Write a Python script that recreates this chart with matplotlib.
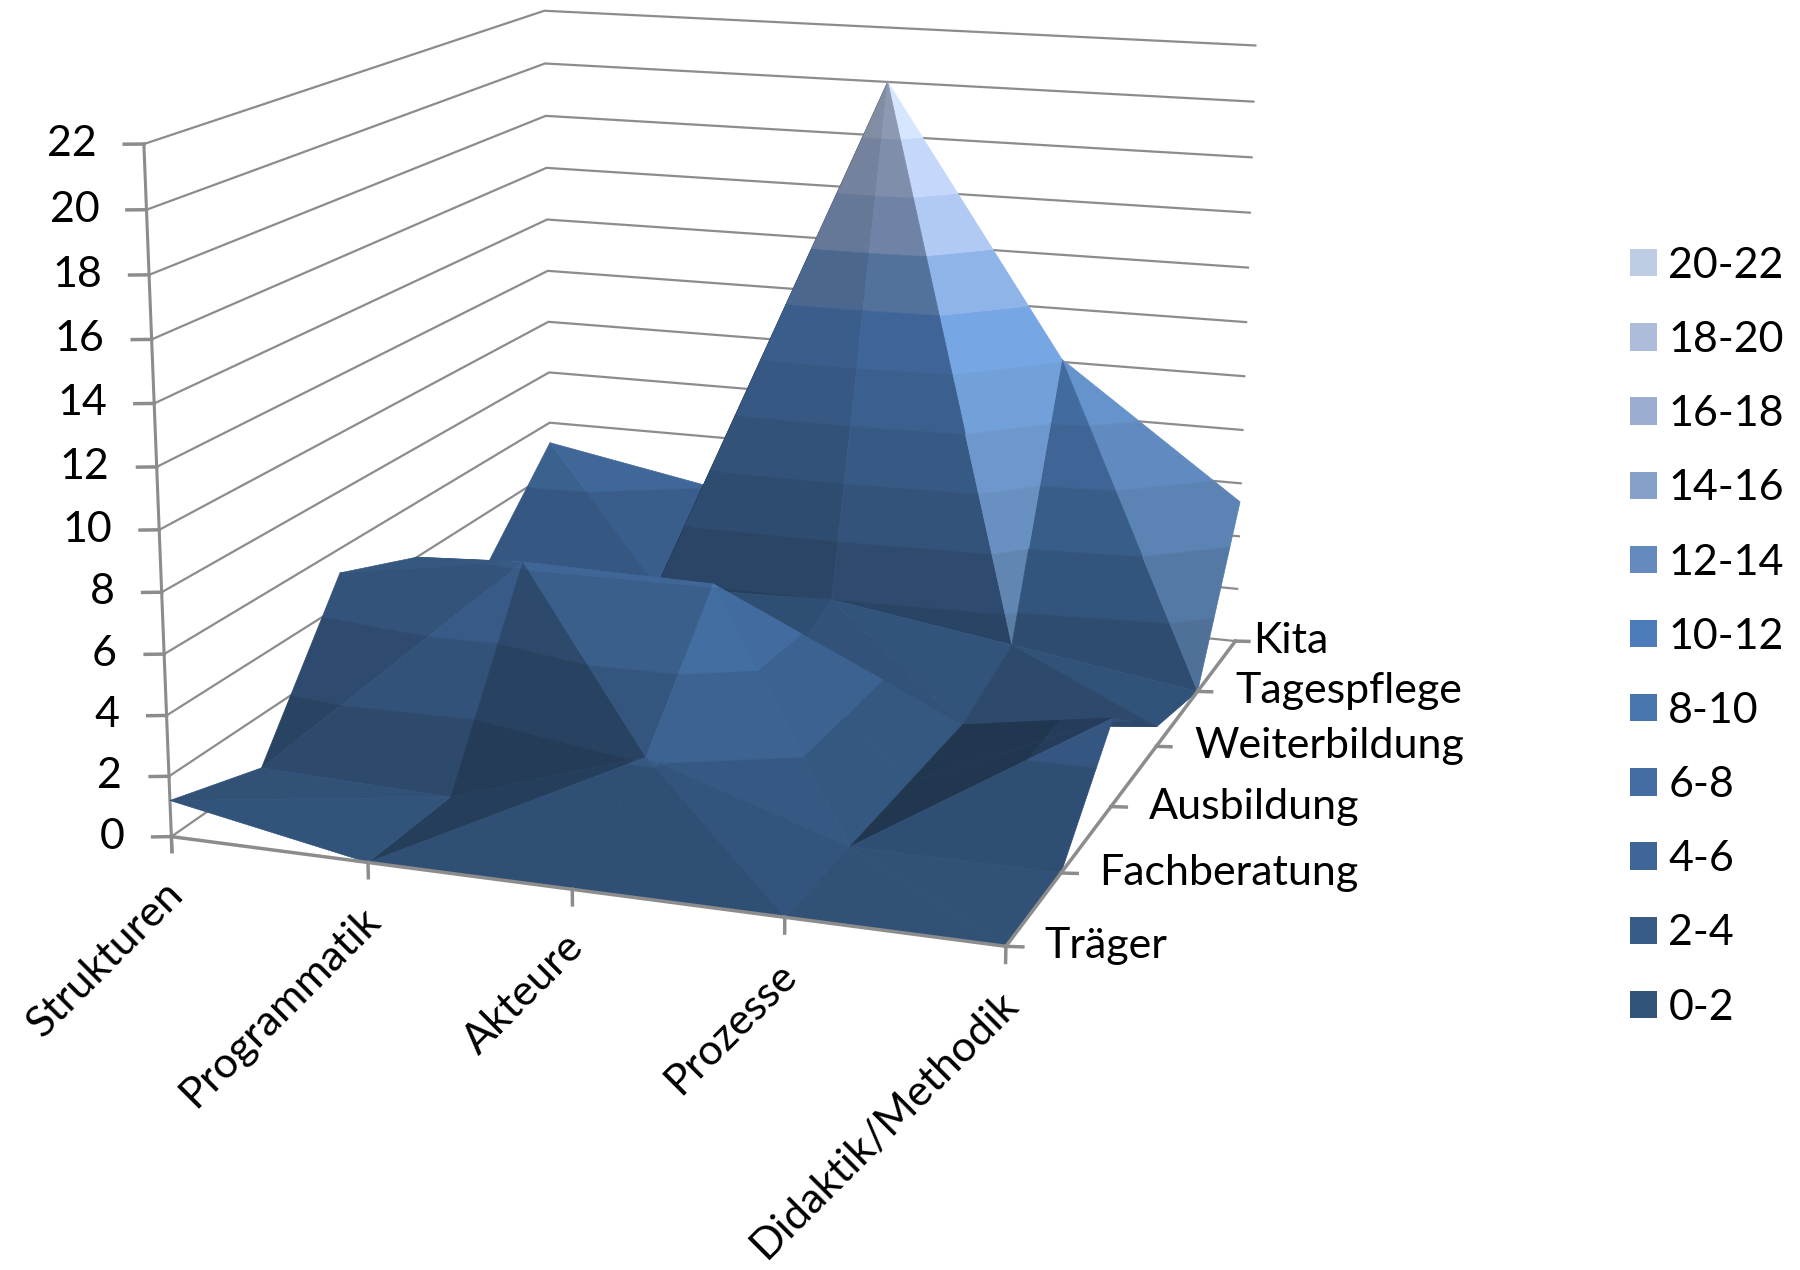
import numpy as np
import matplotlib
matplotlib.use("Agg")
import matplotlib.pyplot as plt
from matplotlib.patches import Patch
from mpl_toolkits.mplot3d import proj3d
from mpl_toolkits.mplot3d.art3d import Poly3DCollection

plt.rcParams['font.family'] = ['Lato', 'DejaVu Sans']

categories = ["Strukturen", "Programmatik", "Akteure", "Prozesse", "Didaktik/Methodik"]
series = ["Träger", "Fachberatung", "Ausbildung", "Weiterbildung", "Tagespflege", "Kita"]
z_ticks = list(range(0, 24, 2))

# rows follow series (front to back), columns follow categories
traeger = [1.2, 0, 0, 0, 0]
fachberatung = [0.2, 0, 2.15, 0, 0]
ausbildung = [5.15, 6.2, 6.1, 0, 3]
weiterbildung = [4, 2, 0.6, 0, 0.7]
tagespflege = [2, 1.8, 2, 1, 0]
kita = [5.2, 4, 20, 10.1, 5.3]
values = np.array([traeger, fachberatung, ausbildung, weiterbildung, tagespflege, kita], dtype=float)

band_labels = ["0-2", "2-4", "4-6", "6-8", "8-10", "10-12", "12-14", "14-16", "16-18", "18-20", "20-22"]
band_colors = ["#32537A", "#385C88", "#3E6696", "#446EA3", "#4876AF", "#4D7CBA",
               "#648ABE", "#87A0CA", "#9BAED2", "#ADBCDA", "#BECCE4"]
GRID = "#8C8C8C"
box = np.array([222.0, 256.0, 180.0])
scale = box / np.array([4.0, 5.0, 22.0])
# cells that fold along the other diagonal in the original
main_diagonal = [(0, 0), (0, 1), (1, 0), (1, 3), (2, 2), (4, 1)]


def clip(poly, lo, hi):
    # cut a polygon down to the part between two z levels
    for level, keep_above in ((lo, True), (hi, False)):
        out = []
        for i in range(len(poly)):
            a, b = poly[i], poly[(i + 1) % len(poly)]
            ina = a[2] >= level if keep_above else a[2] <= level
            inb = b[2] >= level if keep_above else b[2] <= level
            if ina:
                out.append(a)
            if ina != inb:
                t = (level - a[2]) / (b[2] - a[2])
                out.append(a + t * (b - a))
        poly = out
        if len(poly) < 3:
            return []
    return poly


def shade(tri, rgb):
    n = np.cross((tri[1] - tri[0]) * scale, (tri[2] - tri[0]) * scale)
    n = n / np.linalg.norm(n)
    if n[2] < 0:
        n = -n
    k = 0.65 + 0.32 * n[2]
    if n[0] < 0:
        return np.clip(rgb * (k + 0.7 * n[0]), 0, 1)
    # light comes from the front right, the faces turned to it get a flat extra
    side = 0.35 * n[0] + 1.08 * n[0] * max(-n[1], 0)
    if side > 0.4:
        return np.clip(rgb + 0.25 * side, 0, 1)
    k = 1 - (1 - k) * (1 - min(side * 2, 1))
    return np.clip(rgb * k * (1 + 0.55 * side), 0, 1)


polys, colors = [], []
for r in range(values.shape[0] - 1):
    for c in range(values.shape[1] - 1):
        p00 = np.array([c, r, values[r, c]])
        p10 = np.array([c + 1, r, values[r, c + 1]])
        p11 = np.array([c + 1, r + 1, values[r + 1, c + 1]])
        p01 = np.array([c, r + 1, values[r + 1, c]])
        if (r, c) in main_diagonal:
            tris = [[p00, p10, p11], [p00, p11, p01]]
        else:
            tris = [[p00, p10, p01], [p10, p11, p01]]
        for tri in tris:
            for b, col in enumerate(band_colors):
                piece = clip(tri, 2.0 * b, 2.0 * b + 2.0)
                if piece:
                    polys.append(np.array(piece))
                    colors.append(shade(tri, np.array(matplotlib.colors.to_rgb(col))))

fig = plt.figure(figsize=(18, 12.7), dpi=100)
ax = fig.add_axes([93 / 1800, 200 / 1270, 1270 / 1800, 1.0], projection='3d', computed_zorder=False)
ax.set_proj_type('persp', focal_length=0.54)
ax.view_init(elev=14, azim=-70.5)
ax.set_box_aspect(box, zoom=1.075)
ax.set_xlim(0, 4)
ax.set_ylim(0, 5)
ax.set_zlim(0, 22)
ax.set_axis_off()

nx, ny = len(categories) - 1, len(series) - 1


def label(x, y, z, text, dx, dy, **kw):
    # place a text a few pixels away from a point of the box
    px, py, _ = proj3d.proj_transform(x, y, z, ax.get_proj())
    ax.annotate(text, (px, py), xytext=(dx * 0.72, dy * 0.72), textcoords='offset points', fontsize=31,
                annotation_clip=False, **kw)


# wall gridlines
for z in z_ticks:
    ax.plot([0, 0, nx], [0, ny, ny], [z, z, z], color=GRID, lw=1.6, zorder=1)
    ax.plot([-0.08, 0], [-0.035, 0], [z, z], color=GRID, lw=2.5, zorder=1)
    label(0, 0, z, str(z), -47, 0, ha='right', va='center')
ax.plot([0, 0], [0, 0], [-0.5, 22], color=GRID, lw=2.2, zorder=1)

surf = Poly3DCollection(polys, facecolors=colors, edgecolors=colors, linewidths=0.5, zorder=2)
ax.add_collection3d(surf)

# floor axes with ticks
ax.plot([0, nx, nx], [0, 0, ny], [0, 0, 0], color=GRID, lw=2.5, zorder=3)
for i, name in enumerate(categories):
    ax.plot([i, i], [0, 0], [0, -0.5], color=GRID, lw=2.5, zorder=3)
    label(i, 0, 0, name, -8, -38, rotation=45, rotation_mode='anchor', ha='right', va='top')
for j, name in enumerate(series):
    ax.plot([nx, nx + 0.07], [j, j + 0.02], [0, 0], color=GRID, lw=2.5, zorder=3)
    label(nx, j, 0, name, 38 if j < ny else 18, 0, ha='left', va='center')

handles = [Patch(facecolor=c, edgecolor='none') for c in band_colors[::-1]]
fig.legend(handles, band_labels[::-1], loc='upper left', bbox_to_anchor=(1630 / 1800, 1 - 247 / 1270),
           frameon=False, fontsize=31, handlelength=0.62, handleheight=0.6, handletextpad=0.27,
           labelspacing=0.84, borderaxespad=0, borderpad=0)

fig.savefig("out.png", dpi=100)
